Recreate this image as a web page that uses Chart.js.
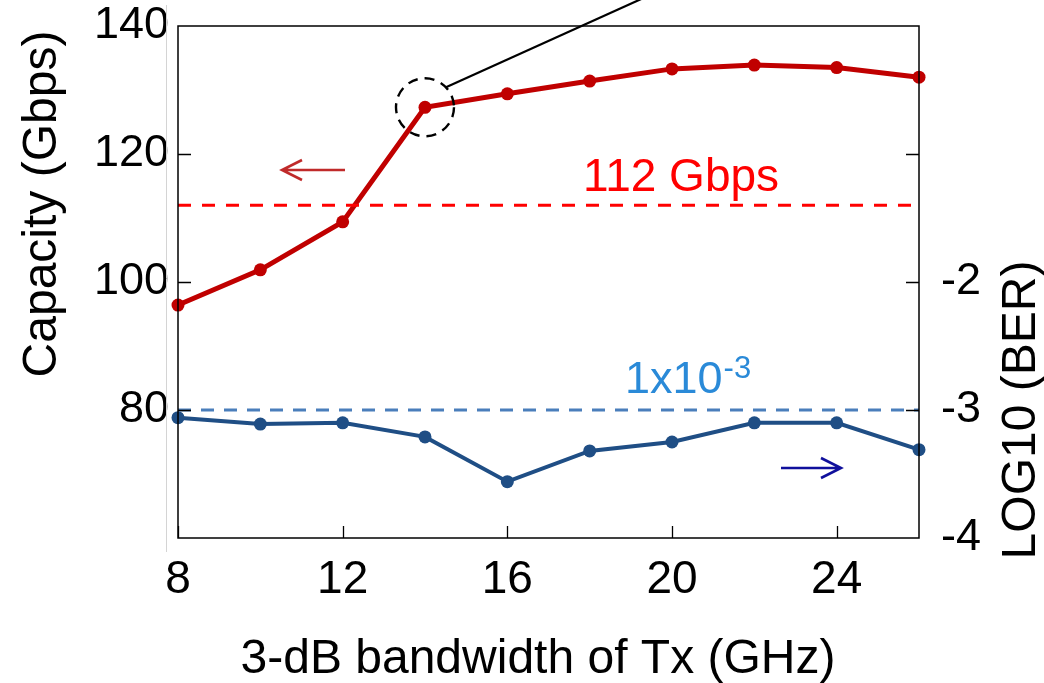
<!DOCTYPE html>
<html>
<head>
<meta charset="utf-8">
<script src="https://cdn.jsdelivr.net/npm/chart.js@4/dist/chart.umd.min.js"></script>
<style>
  html, body { margin: 0; padding: 0; background: #ffffff; }
  canvas { display: block; }
</style>
</head>
<body>
<canvas id="c" width="1044" height="683"></canvas>
<script>
// ---- data ----
const bandwidth = [8, 10, 12, 14, 16, 18, 20, 22, 24, 26];
const capacity = [96.4, 101.9, 109.4, 127.3, 129.4, 131.4, 133.3, 133.9, 133.5, 132.0];
const logBER = [-3.06, -3.11, -3.10, -3.21, -3.56, -3.32, -3.25, -3.10, -3.10, -3.31];
const capacityLimit = [112, 112];
const berLimit = [-3, -3];
const limitSpan = [8, 26];
const xTicks = [8, 12, 16, 20, 24];
const leftTicks = [80, 100, 120, 140];
const rightTicks = [-4, -3, -2];
const rightTickMarks = [-3, -2, -1];
const leftTickMarks = [80, 100, 120];

const FONT = "'Liberation Sans', Arial, sans-serif";

const overlay = {
  id: 'overlay',
  afterDraw(chart) {
    const ctx = chart.ctx;
    const a = chart.chartArea;
    const xs = chart.scales.x, yl = chart.scales.y, yr = chart.scales.y1;
    ctx.save();
    // faint separator line
    ctx.strokeStyle = '#d4d4d4';
    ctx.lineWidth = 1;
    ctx.beginPath(); ctx.moveTo(166.5, 5); ctx.lineTo(166.5, 552); ctx.stroke();
    // frame
    ctx.strokeStyle = '#000';
    ctx.lineWidth = 1.5;
    ctx.strokeRect(a.left, a.top, a.right - a.left, a.bottom - a.top);
    // inward ticks
    ctx.lineWidth = 1.3;
    ctx.beginPath();
    xTicks.forEach(v => { const px = Math.round(xs.getPixelForValue(v)) + 0.5; ctx.moveTo(px, a.bottom); ctx.lineTo(px, a.bottom - 12); });
    leftTickMarks.forEach(v => { const py = Math.round(yl.getPixelForValue(v)) + 0.5; ctx.moveTo(a.left, py); ctx.lineTo(a.left + 13, py); });
    rightTickMarks.forEach(v => { const py = Math.round(yr.getPixelForValue(v)) + 0.5; ctx.moveTo(a.right, py); ctx.lineTo(a.right - 13, py); });
    ctx.stroke();

    // axis titles
    ctx.fillStyle = '#000';
    ctx.font = '48px ' + FONT;
    ctx.textAlign = 'center';
    ctx.textBaseline = 'alphabetic';
    ctx.fillText('3-dB bandwidth of Tx (GHz)', 538, 673);
    ctx.save();
    ctx.translate(56, 204); ctx.rotate(-Math.PI / 2);
    ctx.fillText('Capacity (Gbps)', 0, 0);
    ctx.restore();
    ctx.save();
    ctx.translate(1035, 410); ctx.rotate(-Math.PI / 2);
    ctx.fillText('LOG10 (BER)', 0, 0);
    ctx.restore();

    // annotation texts
    ctx.textAlign = 'left';
    ctx.fillStyle = '#ff0000';
    ctx.font = '46px ' + FONT;
    ctx.fillText('112 Gbps', 583, yl.getPixelForValue(112) - 14);
    ctx.fillStyle = '#2a8ad8';
    ctx.font = '45px ' + FONT;
    const by = yr.getPixelForValue(-3) - 17;
    ctx.fillText('1x10', 625, by);
    const w = ctx.measureText('1x10').width;
    ctx.font = '31px ' + FONT;
    ctx.fillText('-3', 625 + w + 1, by - 15);

    // arrows
    function arrow(x1, x2, y, color) {
      ctx.strokeStyle = color; ctx.lineWidth = 2.6;
      ctx.beginPath(); ctx.moveTo(x1, y); ctx.lineTo(x2, y);
      const d = x2 > x1 ? -1 : 1;
      ctx.moveTo(x2 + d * 20, y - 10); ctx.lineTo(x2, y); ctx.lineTo(x2 + d * 20, y + 10);
      ctx.stroke();
    }
    arrow(345, 282, 170, '#c02a2a');
    arrow(781, 841, 468, '#10109c');

    // dashed circle around the 14 GHz point + leader line
    const cx = xs.getPixelForValue(14), cy = yl.getPixelForValue(capacity[3]);
    ctx.strokeStyle = '#000'; ctx.lineWidth = 2.4;
    ctx.setLineDash([10, 7]);
    ctx.beginPath(); ctx.arc(cx, cy, 29, 0, Math.PI * 2); ctx.stroke();
    ctx.setLineDash([]);
    ctx.lineWidth = 2.2;
    ctx.beginPath(); ctx.moveTo(cx + 21, cy - 20); ctx.lineTo(cx + 21 + 230, cy - 20 - 104); ctx.stroke();
    ctx.restore();
  }
};

function fixV(width) {
  return s => { s.width = width; s.paddingTop = 0; s.paddingBottom = 0; };
}

new Chart(document.getElementById('c'), {
  type: 'line',
  data: {
    datasets: [
      {
        data: limitSpan.map((x, i) => ({ x, y: capacityLimit[i] })),
        yAxisID: 'y', borderColor: '#ff0000', borderWidth: 3, borderDash: [13, 11],
        pointRadius: 0, clip: false
      },
      {
        data: limitSpan.map((x, i) => ({ x, y: berLimit[i] })),
        yAxisID: 'y1', borderColor: '#4a7ebb', borderWidth: 3, borderDash: [13, 10],
        pointRadius: 0, clip: false
      },
      {
        data: bandwidth.map((x, i) => ({ x, y: capacity[i] })),
        yAxisID: 'y', borderColor: '#c00000', backgroundColor: '#c00000', borderWidth: 5,
        pointRadius: 6.5, pointBorderWidth: 0, clip: false
      },
      {
        data: bandwidth.map((x, i) => ({ x, y: logBER[i] })),
        yAxisID: 'y1', borderColor: '#1f4e85', backgroundColor: '#1f4e85', borderWidth: 4,
        pointRadius: 6.5, pointBorderWidth: 0, clip: false
      }
    ]
  },
  options: {
    responsive: false,
    animation: false,
    devicePixelRatio: 1,
    layout: { padding: { top: 26, left: 0, right: 0, bottom: 0 } },
    plugins: { legend: { display: false }, tooltip: { enabled: false } },
    scales: {
      x: {
        type: 'linear', position: 'bottom', min: 8, max: 26,
        afterBuildTicks: s => { s.ticks = xTicks.map(v => ({ value: v })); },
        afterFit: s => { s.height = 145; s.paddingLeft = 0; s.paddingRight = 0; },
        grid: { display: false }, border: { display: false },
        ticks: { color: '#000', font: { family: FONT, size: 46 }, padding: 7, maxRotation: 0, autoSkip: false }
      },
      y: {
        type: 'linear', position: 'left', min: 60, max: 140,
        afterBuildTicks: s => { s.ticks = leftTicks.map(v => ({ value: v })); },
        afterFit: fixV(178),
        grid: { display: false }, border: { display: false },
        ticks: { color: '#000', font: { family: FONT, size: 45 }, padding: 1, autoSkip: false }
      },
      y1: {
        type: 'linear', position: 'right', min: -4, max: 0,
        afterBuildTicks: s => { s.ticks = rightTicks.map(v => ({ value: v })); },
        afterFit: fixV(125),
        grid: { display: false }, border: { display: false },
        ticks: { color: '#000', font: { family: FONT, size: 45 }, padding: 14, autoSkip: false }
      }
    }
  },
  plugins: [overlay]
});
</script>
</body>
</html>
